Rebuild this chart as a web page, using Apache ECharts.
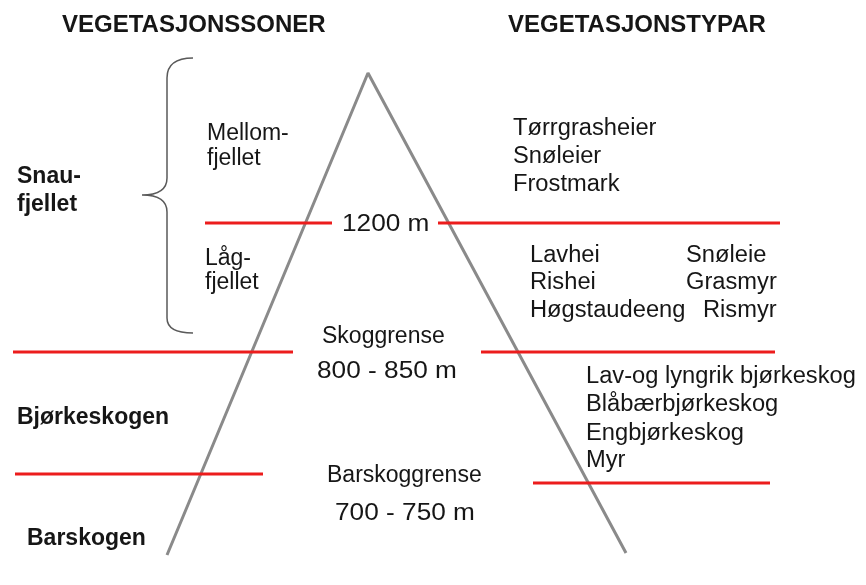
<!DOCTYPE html>
<html>
<head>
<meta charset="utf-8">
<script src="https://cdn.jsdelivr.net/npm/echarts@6/dist/echarts.min.js"></script>
<style>
html,body{margin:0;padding:0;background:#fff;}
#chart{width:866px;height:585px;}
</style>
</head>
<body>
<div id="chart"></div>
<script>
// ---- Diagram data (positions in the diagram's own 866 x 585 coordinate space) ----
var mountain = [[167, 555], [368, 73], [626, 553]];

var boundaryLines = [
  [[205, 223], [332, 223]],
  [[438, 223], [780, 223]],
  [[13, 352], [293, 352]],
  [[481, 352], [775, 352]],
  [[15, 474], [263, 474]],
  [[533, 483], [770, 483]]
];

var braceNodes = [[193, 58], [167, 78], [167, 178], [142, 195], [167, 212], [167, 318], [193, 333]];

var headerLabels = [
  [62, 25, 'VEGETASJONSSONER'],
  [508, 25, 'VEGETASJONSTYPAR']
];

var zoneLabels = [
  [17, 177, 'Snau-'],
  [17, 205, 'fjellet'],
  [17, 418, 'Bjørkeskogen'],
  [27, 539, 'Barskogen']
];

var subZoneLabels = [
  [207, 134, 'Mellom-'],
  [207, 159, 'fjellet'],
  [205, 259, 'Låg-'],
  [205, 283, 'fjellet'],
  [322, 337, 'Skoggrense'],
  [327, 476, 'Barskoggrense']
];

var altitudeLabels = [
  [342, 225, '1200 m'],
  [317, 372, '800 - 850 m'],
  [335, 514, '700 - 750 m']
];

var typeLabels = [
  [513, 129, 'Tørrgrasheier'],
  [513, 157, 'Snøleier'],
  [513, 185, 'Frostmark'],
  [530, 256, 'Lavhei'],
  [530, 283, 'Rishei'],
  [530, 311, 'Høgstaudeeng'],
  [686, 256, 'Snøleie'],
  [686, 283, 'Grasmyr'],
  [703, 311, 'Rismyr'],
  [586, 377, 'Lav-og lyngrik bjørkeskog'],
  [586, 405, 'Blåbærbjørkeskog'],
  [586, 434, 'Engbjørkeskog'],
  [586, 461, 'Myr']
];

// ---- Chart ----
var chart = echarts.init(document.getElementById('chart'), null, {renderer: 'canvas'});

function textSeries(arr, font, scaleX) {
  return {
    type: 'custom',
    silent: true,
    clip: false,
    data: arr.map(function (d) { return [d[0], d[1]]; }),
    renderItem: function (params, api) {
      var d = arr[params.dataIndex];
      var p = api.coord([api.value(0), api.value(1)]);
      return {
        type: 'text',
        x: p[0],
        y: p[1],
        scaleX: scaleX,
        style: {
          text: d[2],
          x: 0,
          y: 0,
          font: font,
          fill: '#161616',
          align: 'left',
          verticalAlign: 'middle',
          textAlign: 'left',
          textVerticalAlign: 'middle'
        }
      };
    }
  };
}

var series = [];

series.push({
  type: 'line',
  data: mountain,
  symbol: 'none',
  silent: true,
  lineStyle: {color: '#8a8a8a', width: 3}
});

boundaryLines.forEach(function (seg) {
  series.push({
    type: 'line',
    data: seg,
    symbol: 'none',
    silent: true,
    lineStyle: {color: '#ec1c1c', width: 3}
  });
});

series.push({
  type: 'custom',
  silent: true,
  clip: false,
  data: [[0, 0]],
  renderItem: function (params, api) {
    var c = braceNodes.map(function (n) { return api.coord(n); });
    var f = function (p) { return p[0].toFixed(1) + ' ' + p[1].toFixed(1); };
    var path =
      'M ' + f(c[0]) +
      ' Q ' + f([c[1][0], c[0][1]]) + ' ' + f(c[1]) +
      ' L ' + f(c[2]) +
      ' Q ' + f([c[2][0], c[3][1]]) + ' ' + f(c[3]) +
      ' Q ' + f([c[4][0], c[3][1]]) + ' ' + f(c[4]) +
      ' L ' + f(c[5]) +
      ' Q ' + f([c[5][0], c[6][1]]) + ' ' + f(c[6]);
    return {
      type: 'path',
      shape: {pathData: path},
      style: {stroke: '#5a5a5a', fill: 'none', lineWidth: 1.5}
    };
  }
});

series.push(textSeries(headerLabels, 'bold 24px "Liberation Sans", Arial, sans-serif', 1));
series.push(textSeries(zoneLabels, 'bold 23px "Liberation Sans", Arial, sans-serif', 1));
series.push(textSeries(subZoneLabels, '23px "Liberation Sans", Arial, sans-serif', 1));
series.push(textSeries(altitudeLabels, '23px "Liberation Sans", Arial, sans-serif', 1.14));
series.push(textSeries(typeLabels, '23px "Liberation Sans", Arial, sans-serif', 1.03));

chart.setOption({
  backgroundColor: '#ffffff',
  animation: false,
  grid: {left: 0, right: 0, top: 0, bottom: 0},
  xAxis: {type: 'value', min: 0, max: 866, show: false},
  yAxis: {type: 'value', min: 0, max: 585, inverse: true, show: false},
  series: series
});
</script>
</body>
</html>
